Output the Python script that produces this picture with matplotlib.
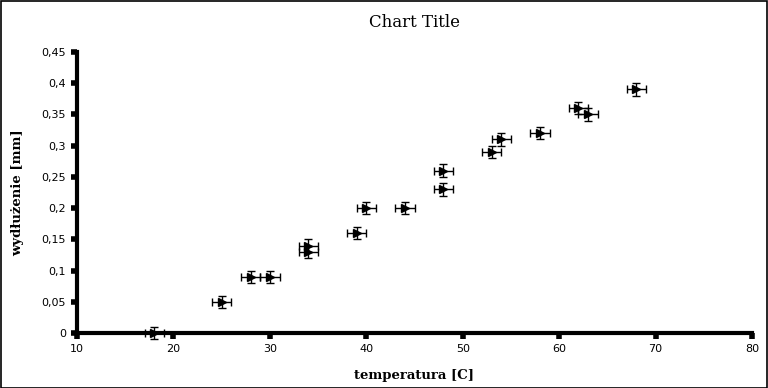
import matplotlib
matplotlib.use("Agg")
import matplotlib.pyplot as plt
from matplotlib.ticker import FuncFormatter, MultipleLocator

# temperature [C] and elongation [mm]
temperatura = [18, 25, 28, 30, 34, 34, 39, 40, 44, 48, 48, 53, 54, 58, 62, 63, 68]
wydluzenie = [0.0, 0.05, 0.09, 0.09, 0.13, 0.14, 0.16, 0.20, 0.20, 0.23, 0.26,
              0.29, 0.31, 0.32, 0.36, 0.35, 0.39]
x_err = 1.0
y_err = 0.01


def comma_fmt(v, pos):
    s = f"{v:.2f}".rstrip("0").rstrip(".")
    return s.replace(".", ",")


fig = plt.figure(figsize=(7.68, 3.88), dpi=100)
ax = fig.add_axes([77 / 768, 1 - 333 / 388, 675 / 768, 281 / 388])

ax.errorbar(
    temperatura, wydluzenie, xerr=x_err, yerr=y_err,
    fmt=">", color="black", ms=5.5, elinewidth=1.0, capsize=3, capthick=1.0,
    clip_on=False,
)

ax.set_xlim(10, 80)
ax.set_ylim(0, 0.45)
ax.xaxis.set_major_locator(MultipleLocator(10))
ax.yaxis.set_major_locator(MultipleLocator(0.05))
ax.xaxis.set_major_formatter(FuncFormatter(comma_fmt))
ax.yaxis.set_major_formatter(FuncFormatter(comma_fmt))

for side in ("top", "right"):
    ax.spines[side].set_visible(False)
for side in ("left", "bottom"):
    ax.spines[side].set_linewidth(3)
ax.tick_params(direction="out", length=4, width=4, labelsize=8, pad=4)

ax.set_title("Chart Title", family="DejaVu Serif", fontsize=12, pad=18)
ax.set_xlabel("temperatura [C]", family="DejaVu Serif", fontweight="bold",
              fontsize=9.5, va="center")
ax.set_ylabel("wydłużenie [mm]", family="DejaVu Serif", fontweight="bold",
              fontsize=9.5, va="center")
ax.xaxis.set_label_coords(0.5, -(375 - 333) / 281)
ax.yaxis.set_label_coords(-(77 - 18) / 675, 0.5)

# thin border around the whole figure
fig.patches.append(plt.Rectangle((0.001, 0.001), 0.998, 0.997, transform=fig.transFigure,
                                 fill=False, edgecolor="black", linewidth=1.2))

fig.savefig("out.png", dpi=100)
